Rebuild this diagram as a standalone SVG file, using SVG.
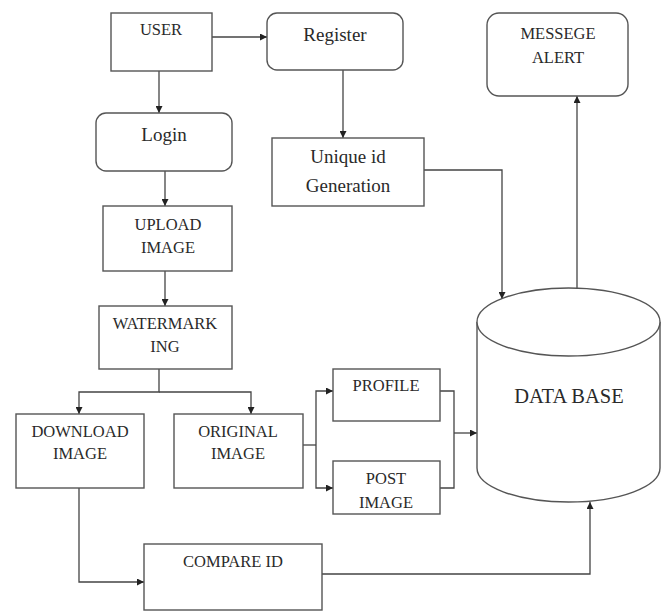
<svg xmlns="http://www.w3.org/2000/svg" width="665" height="612" viewBox="0 0 665 612">
  <style>
    .box { fill: #fff; stroke: #555; stroke-width: 1.4; }
    .lbl { font-family: "Liberation Serif", "Times New Roman", serif; fill: #2a2a2a; text-anchor: middle; }
    .sm { font-size: 16.5px; }
    .md { font-size: 19px; }
    .lg { font-size: 20.5px; }
    .wire { fill: none; stroke: #444; stroke-width: 1.3; }
  </style>
  <defs>
    <marker id="arr" viewBox="0 0 10 10" refX="10" refY="5" markerWidth="7" markerHeight="7" orient="auto" markerUnits="userSpaceOnUse">
      <path d="M0,0 L10,5 L0,10 z" fill="#222"/>
    </marker>
  </defs>
  <rect width="665" height="612" fill="#fff"/>

  <g id="connectors">
    <path class="wire" d="M212,37 H267" marker-end="url(#arr)"/>
    <path class="wire" d="M159,71 V113" marker-end="url(#arr)"/>
    <path class="wire" d="M165,171 V206" marker-end="url(#arr)"/>
    <path class="wire" d="M165,271 V306" marker-end="url(#arr)"/>
    <path class="wire" d="M343,70 V138" marker-end="url(#arr)"/>
    <path class="wire" d="M159,369 V392 H79 V414" marker-end="url(#arr)"/>
    <path class="wire" d="M159,392 H251 V414" marker-end="url(#arr)"/>
    <path class="wire" d="M303,445 H316"/>
    <path class="wire" d="M316,445 V391 H333" marker-end="url(#arr)"/>
    <path class="wire" d="M316,445 V488 H333" marker-end="url(#arr)"/>
    <path class="wire" d="M440,391 H454 V488 H440"/>
    <path class="wire" d="M454,433 H477" marker-end="url(#arr)"/>
    <path class="wire" d="M424,170 H502 V299" marker-end="url(#arr)"/>
    <path class="wire" d="M577,288 V96" marker-end="url(#arr)"/>
    <path class="wire" d="M79,488 V582 H144" marker-end="url(#arr)"/>
    <path class="wire" d="M322,574 H590 V502" marker-end="url(#arr)"/>
  </g>

  <g id="user">
    <rect class="box" x="111" y="13" width="101" height="58"/>
    <text class="lbl sm" x="161" y="35">USER</text>
  </g>
  <g id="register">
    <rect class="box" x="267" y="13" width="136" height="57" rx="10"/>
    <text class="lbl md" x="335" y="41">Register</text>
  </g>
  <g id="login">
    <rect class="box" x="96" y="113" width="136" height="58" rx="10"/>
    <text class="lbl md" x="164" y="141">Login</text>
  </g>
  <g id="unique-id">
    <rect class="box" x="272" y="138" width="152" height="68"/>
    <text class="lbl md" x="348" y="163">Unique id</text>
    <text class="lbl md" x="348" y="192">Generation</text>
  </g>
  <g id="message-alert">
    <rect class="box" x="487" y="13" width="141" height="83" rx="12"/>
    <text class="lbl sm" x="558" y="39">MESSEGE</text>
    <text class="lbl sm" x="558" y="63">ALERT</text>
  </g>
  <g id="upload-image">
    <rect class="box" x="103" y="206" width="129" height="65"/>
    <text class="lbl sm" x="168" y="230">UPLOAD</text>
    <text class="lbl sm" x="168" y="253">IMAGE</text>
  </g>
  <g id="watermarking">
    <rect class="box" x="99" y="306" width="133" height="63"/>
    <text class="lbl sm" x="165" y="329">WATERMARK</text>
    <text class="lbl sm" x="165" y="352">ING</text>
  </g>
  <g id="download-image">
    <rect class="box" x="16" y="414" width="128" height="74"/>
    <text class="lbl sm" x="80" y="437">DOWNLOAD</text>
    <text class="lbl sm" x="80" y="459">IMAGE</text>
  </g>
  <g id="original-image">
    <rect class="box" x="174" y="414" width="129" height="74"/>
    <text class="lbl sm" x="238" y="437">ORIGINAL</text>
    <text class="lbl sm" x="238" y="459">IMAGE</text>
  </g>
  <g id="profile">
    <rect class="box" x="333" y="369" width="107" height="52"/>
    <text class="lbl sm" x="386" y="391">PROFILE</text>
  </g>
  <g id="post-image">
    <rect class="box" x="333" y="461" width="107" height="53"/>
    <text class="lbl sm" x="386" y="484">POST</text>
    <text class="lbl sm" x="386" y="508">IMAGE</text>
  </g>
  <g id="compare-id">
    <rect class="box" x="144" y="544" width="178" height="66"/>
    <text class="lbl sm" x="233" y="567">COMPARE ID</text>
  </g>
  <g id="database">
    <path class="box" d="M477,322 V468 A91.5,34 0 0 0 660,468 V322"/>
    <ellipse class="box" cx="568.5" cy="322" rx="91.5" ry="34"/>
    <text class="lbl lg" x="569" y="403">DATA BASE</text>
  </g>
</svg>
